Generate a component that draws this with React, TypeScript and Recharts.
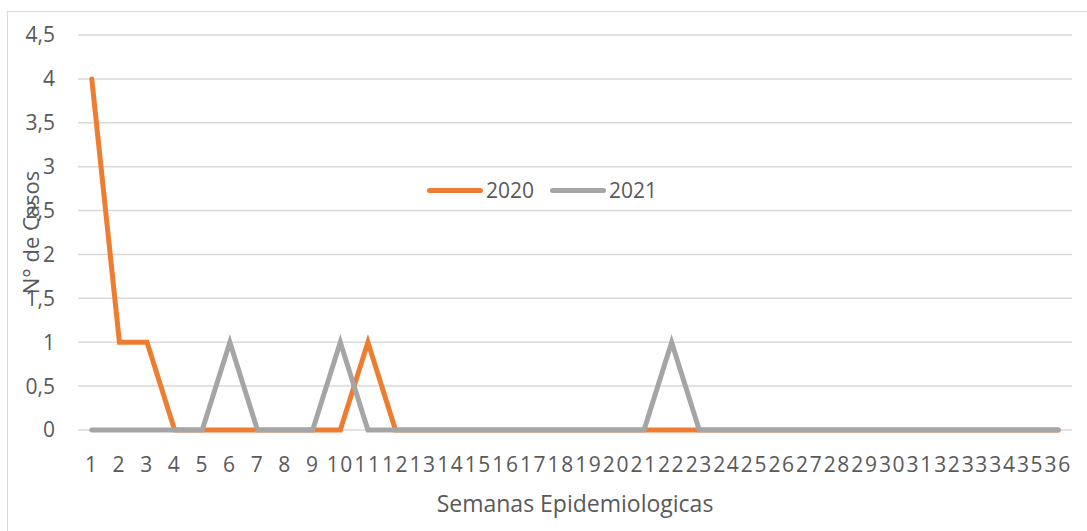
import React from 'react'
import { LineChart, Line, XAxis, YAxis, CartesianGrid } from 'recharts'

const semanas = Array.from({ length: 36 }, (_, i) => String(i + 1))
const casos2020 = [4, 1, 1, 0, 0, 0, 0, 0, 0, 0, 1, 0, 0, 0, 0, 0, 0, 0, 0, 0, 0, 0, 0, 0, 0, 0, 0, 0, 0, 0, 0, 0, 0, 0, 0, 0]
const casos2021 = [0, 0, 0, 0, 0, 1, 0, 0, 0, 1, 0, 0, 0, 0, 0, 0, 0, 0, 0, 0, 0, 1, 0, 0, 0, 0, 0, 0, 0, 0, 0, 0, 0, 0, 0, 0]
const yTicks = [0, 0.5, 1, 1.5, 2, 2.5, 3, 3.5, 4, 4.5]
const series = [
  { key: '2020', color: '#ed7d31' },
  { key: '2021', color: '#a5a5a5' },
]

const data = semanas.map((s, i) => ({ semana: s, '2020': casos2020[i], '2021': casos2021[i] }))

const font = '"Open Sans", sans-serif'
const textColor = '#595959'

function App() {
  return (
    <div style={{ position: 'absolute', left: 0, top: 0, width: 1087, height: 531, overflow: 'hidden', background: '#fff' }}>
      <div style={{ position: 'absolute', left: 7, top: 11, width: 1100, height: 540, border: '1px solid #d9d9d9' }} />
      <div style={{ position: 'absolute', left: 0, top: 0 }}>
        <LineChart width={1087} height={531} data={data} margin={{ top: 35, right: 15, left: 0, bottom: 6 }}>
          <CartesianGrid vertical={false} stroke='#d9d9d9' strokeWidth={1.5} />
          <XAxis
            dataKey='semana'
            height={95}
            interval={0}
            padding={{ left: 13.8, right: 13.8 }}
            tickLine={false}
            axisLine={false}
            tickSize={0}
            tickMargin={27}
            tick={{ fill: textColor, fontSize: 21, fontFamily: font, letterSpacing: 1.6 }}
            label={{ value: 'Semanas Epidemiologicas', position: 'insideBottom', offset: 13, fill: textColor, fontSize: 23, fontFamily: font }}
          />
          <YAxis
            width={78}
            domain={[0, 4.5]}
            ticks={yTicks}
            interval={0}
            tickLine={false}
            axisLine={false}
            tickSize={0}
            tickMargin={23}
            tickFormatter={(v: number) => String(v).replace('.', ',')}
            tick={{ fill: textColor, fontSize: 21, fontFamily: font }}
            label={{ value: 'N° de Casos', angle: -90, position: 'center', dx: -8, fill: textColor, fontSize: 22, fontFamily: font }}
          />
          {series.map((s) => (
            <Line key={s.key} dataKey={s.key} stroke={s.color} strokeWidth={5} dot={false} strokeLinecap='round' isAnimationActive={false} />
          ))}
        </LineChart>
      </div>
      <div style={{ position: 'absolute', left: 427, top: 176, display: 'flex', alignItems: 'center', fontFamily: font, fontSize: 21, color: textColor }}>
        {series.map((s) => (
          <div key={s.key} style={{ display: 'flex', alignItems: 'center', marginRight: 16 }}>
            <div style={{ width: 56, height: 5, borderRadius: 3, background: s.color, marginRight: 3 }} />
            <span>{s.key}</span>
          </div>
        ))}
      </div>
    </div>
  )
}

export default App
